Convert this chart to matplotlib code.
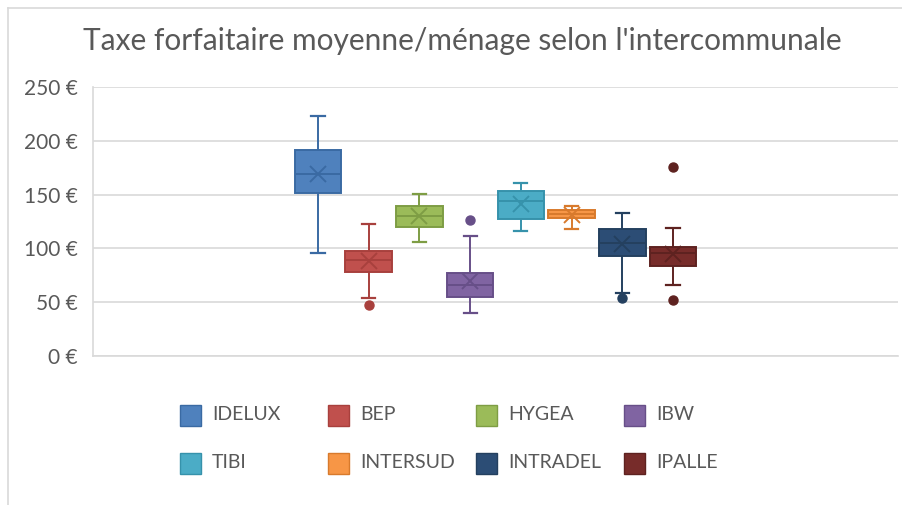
import numpy as np
import matplotlib
matplotlib.use('Agg')
import matplotlib.pyplot as plt
from matplotlib.patches import Rectangle
from matplotlib.lines import Line2D

plt.rcParams['font.family'] = ['Lato', 'DejaVu Sans']

# Statistics (euro per household)
names = ['IDELUX', 'BEP', 'HYGEA', 'IBW', 'TIBI', 'INTERSUD', 'INTRADEL', 'IPALLE']
whislo = [96, 54, 106, 40, 116, 118, 59, 66]
q1 = [151.5, 78, 119.5, 55, 127, 128.4, 92.6, 83.3]
med = [169, 89, 130, 66, 144, 132, 104.6, 96]
q3 = [191.7, 98, 139, 77.5, 153.4, 135.8, 117.6, 101]
whishi = [223, 123, 151, 111.4, 160.8, 139.5, 133, 119]
means = [169, 88, 130, 70, 141, 131.5, 103.7, 95]
fliers = [[], [47], [], [126.5], [], [], [54], [175.3, 52.5]]

fills = ['#4F81BD', '#C0504D', '#9BBB59', '#8064A2', '#4BACC6', '#F79646', '#2C4D75', '#772C2A']
edges = ['#3A6AA3', '#A8403D', '#7E9D44', '#674F88', '#3692AB', '#D87A2C', '#24405F', '#5E2220']

fig = plt.figure(figsize=(9.03, 5.05), dpi=100)
ax = fig.add_axes([93 / 903, 1 - 356 / 505, 805 / 903, 269 / 505])

for i, name in enumerate(names):
    stats = [dict(whislo=whislo[i], q1=q1[i], med=med[i], q3=q3[i], whishi=whishi[i],
                  mean=means[i], fliers=fliers[i], label=name)]
    ax.bxp(stats, positions=[i], widths=0.92, patch_artist=True, showmeans=True,
           boxprops=dict(facecolor=fills[i], edgecolor=edges[i], linewidth=1.4),
           medianprops=dict(color=edges[i], linewidth=1.4),
           whiskerprops=dict(color=edges[i], linewidth=1.4),
           capprops=dict(color=edges[i], linewidth=1.6),
           capwidths=0.26,
           meanprops=dict(marker='x', markersize=12, markeredgecolor=edges[i], markeredgewidth=1.4),
           flierprops=dict(marker='o', markersize=6.5, markerfacecolor=edges[i], markeredgecolor=edges[i]))

ax.set_xlim(-4.44, 11.44)
ax.set_ylim(0, 250)
ax.set_yticks(np.arange(0, 251, 50))
ax.set_yticklabels([f'{v} €' for v in range(0, 251, 50)])
ax.set_xticks([])
ax.tick_params(axis='y', length=0, pad=11, labelsize=15, labelcolor='#595959')
ax.grid(axis='y', color='#D9D9D9', linewidth=1.2)
ax.set_axisbelow(True)
for s in ['top', 'right']:
    ax.spines[s].set_visible(False)
for s in ['left', 'bottom']:
    ax.spines[s].set_color('#D9D9D9')
    ax.spines[s].set_linewidth(1.2)

fig.text(462 / 903, 1 - 41 / 505, "Taxe forfaitaire moyenne/ménage selon l'intercommunale",
         ha='center', va='center', fontsize=21.5, color='#595959')

# legend, 4 equal-width columns
for i, name in enumerate(names):
    col, row = i % 4, i // 4
    x0 = (180 + col * 148) / 903
    yc = 1 - (415 + row * 48) / 505
    fig.add_artist(Rectangle((x0, yc - 10.5 / 505), 21 / 903, 21 / 505, transform=fig.transFigure,
                             facecolor=fills[i], edgecolor=edges[i], linewidth=1))
    fig.text(x0 + 32 / 903, yc, name, ha='left', va='center', fontsize=14, color='#595959')

# chart area border
fig.add_artist(Line2D([8 / 903, 8 / 903], [0, 1 - 8 / 505], color='#D9D9D9', linewidth=1.2))
fig.add_artist(Line2D([8 / 903, 1], [1 - 8 / 505, 1 - 8 / 505], color='#D9D9D9', linewidth=1.2))

fig.savefig('out.png', dpi=100)
